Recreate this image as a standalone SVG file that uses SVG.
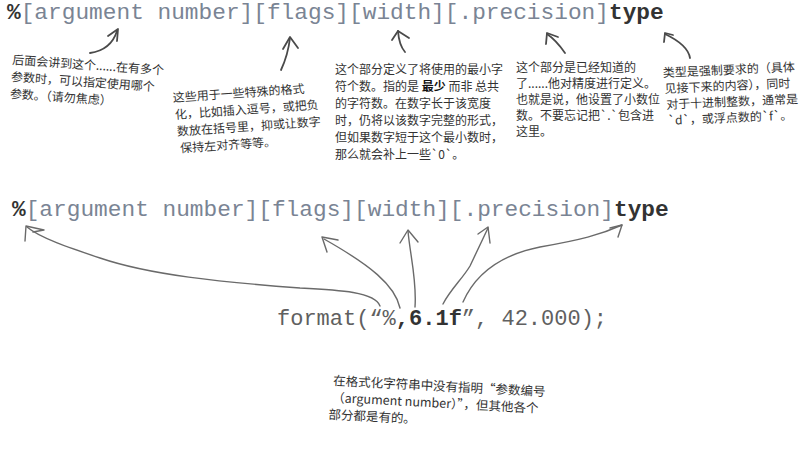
<svg xmlns="http://www.w3.org/2000/svg" width="800" height="450" viewBox="0 0 800 450">
<style>
.mono{font-family:"Liberation Mono","DejaVu Sans Mono",monospace;}
.spec{font-size:22.8px;fill:#7a8494;}
.dark{fill:#333;font-weight:bold;}
.fmt{font-size:22px;fill:#606060;}
.note{font-family:"Noto Sans CJK SC","Noto Sans",sans-serif;font-size:12px;fill:#333;}
.ta{fill:none;stroke:#4a4a4a;stroke-width:1.8;stroke-linecap:round;stroke-linejoin:round;}
.ba{fill:none;stroke:#6a6a6a;stroke-width:1.4;stroke-linecap:round;stroke-linejoin:round;}
</style>
<rect width="800" height="450" fill="#fff"/>
<g id="spec-top">
<text class="mono spec" x="7" y="19"><tspan class="dark">%</tspan>[argument number][flags][width][.precision]<tspan class="dark">type</tspan></text>
</g>
<g id="note-argument">
<text class="note" transform="rotate(4 12 64)"><tspan x="12" y="64">后面会讲到这个......在有多个</tspan><tspan x="12" y="81">参数时，可以指定使用哪个</tspan><tspan x="12" y="98">参数。（请勿焦虑）</tspan></text>
</g>
<g id="note-flags">
<text class="note" transform="rotate(-4 173 102)"><tspan x="173" y="102">这些用于一些特殊的格式</tspan><tspan x="174" y="119">化，比如插入逗号，或把负</tspan><tspan x="175" y="136">数放在括号里，抑或让数字</tspan><tspan x="177" y="153">保持左对齐等等。</tspan></text>
</g>
<g id="note-width">
<text class="note"><tspan x="335" y="74">这个部分定义了将使用的最小字</tspan><tspan x="335" y="91">符个数。指的是 <tspan font-weight="bold" fill="#111">最少</tspan> 而非 总共</tspan><tspan x="335" y="108">的字符数。在数字长于该宽度</tspan><tspan x="335" y="125">时，仍将以该数字完整的形式，</tspan><tspan x="335" y="142">但如果数字短于这个最小数时，</tspan><tspan x="335" y="159">那么就会补上一些`0`。</tspan></text>
</g>
<g id="note-precision">
<text class="note"><tspan x="516" y="72">这个部分是已经知道的</tspan><tspan x="516" y="88">了......他对精度进行定义。</tspan><tspan x="516" y="104">也就是说，他设置了小数位</tspan><tspan x="516" y="120">数。不要忘记把`.`包含进</tspan><tspan x="516" y="136">这里。</tspan></text>
</g>
<g id="note-type">
<text class="note" transform="rotate(-2.5 663 77)"><tspan x="663" y="77">类型是强制要求的（具体</tspan><tspan x="664" y="93">见接下来的内容），同时</tspan><tspan x="665" y="109">对于十进制整数，通常是</tspan><tspan x="666" y="125">`d`，或浮点数的`f`。</tspan></text>
</g>
<g id="spec-bottom">
<text class="mono spec" x="12" y="216"><tspan class="dark">%</tspan>[argument number][flags][width][.precision]<tspan class="dark">type</tspan></text>
</g>
<g id="format-call">
<text class="mono fmt" x="277" y="325">format(“%<tspan class="dark">,6.1f</tspan>”, 42.000);</text>
</g>
<g id="note-bottom">
<text class="note" style="font-size:12.5px" transform="rotate(3 333 385)"><tspan x="333" y="385">在格式化字符串中没有指明“参数编号</tspan><tspan x="333" y="402">（argument number）”，但其他各个</tspan><tspan x="330" y="419">部分都是有的。</tspan></text>
</g>
<g id="connectors">
<path class="ta" d="M90,53 Q111,50 117,31"/>
<path class="ta" d="M108,36 L118,29 L117,41"/>
<path class="ta" d="M281,70 Q288,55 290,38"/>
<path class="ta" d="M283,49 L290,37 L298,48"/>
<path class="ta" d="M405,52 Q399,45 398,31"/>
<path class="ta" d="M392,40 L398,31 L409,38"/>
<path class="ta" d="M565,53 Q556,40 547,34"/>
<path class="ta" d="M546,44 L547,33 L558,37"/>
<path class="ta" d="M665,34 Q688,45 690,58"/>
<path class="ta" d="M664,42 L665,33 L673,35"/>
<path class="ba" d="M380,306 C375,292 340,290 300,288 C220,282 150,275 100,258 C70,248 40,238 27,227"/>
<path class="ba" d="M25,241 L26,226 L44,230 L33,232"/>
<path class="ba" d="M400,308 C395,285 370,265 324,239"/>
<path class="ba" d="M327,252 L322,237 L338,240"/>
<path class="ba" d="M415,307 C417,280 410,255 408,231"/>
<path class="ba" d="M400,243 L408,230 L418,242"/>
<path class="ba" d="M443,304 C450,290 463,278 470,266 L488,228"/>
<path class="ba" d="M478,234 L488,227 L490,243"/>
<path class="ba" d="M463,302 C475,275 500,255 540,247 C580,240 600,235 622,225"/>
<path class="ba" d="M610,228 L622,225 L618,237"/>
</g>
</svg>
